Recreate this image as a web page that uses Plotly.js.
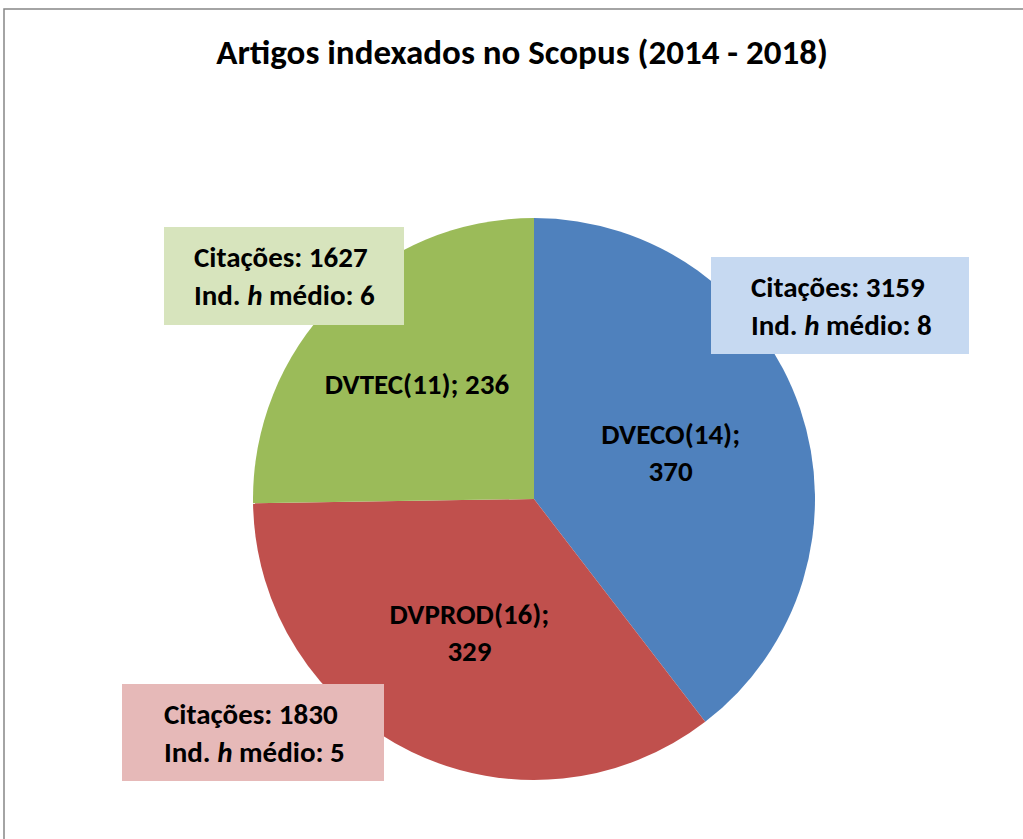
<!DOCTYPE html>
<html>
<head>
<meta charset="utf-8">
<script src="https://cdn.plot.ly/plotly-3.0.1.min.js"></script>
<style>html,body{margin:0;padding:0;background:#fff;}#chart{width:1023px;height:839px;}</style>
</head>
<body>
<div id="chart"></div>
<script>
var categories = ["DVECO(14)", "DVPROD(16)", "DVTEC(11)"];
var articles = [370, 329, 236];
var citations = [3159, 1830, 1627];
var hIndex = [8, 5, 6];
var sliceColors = ["#4F81BD", "#C0504D", "#9BBB59"];
var boxColors = ["#C6D9F1", "#E6B9B8", "#D7E4BD"];
var labelSep = ["<br>", "<br>", " "];

var FONT = "Carlito, Calibri, Lato, 'Open Sans', sans-serif";
var W = 1023, H = 839;
function px(x){ return x / W; }
function py(y){ return 1 - y / H; }

var sliceText = categories.map(function(c, i){ return "<b>" + c + ";" + labelSep[i] + articles[i] + "</b>"; });

var cx = 534, cy = 499, r = 281;
var trace = {
  type: "pie",
  labels: categories,
  values: articles,
  text: sliceText,
  textinfo: "text",
  textposition: "inside",
  insidetextorientation: "horizontal",
  insidetextfont: {family: FONT, size: 29, color: "#000"},
  sort: false,
  direction: "clockwise",
  rotation: 0,
  marker: {colors: sliceColors, line: {width: 0}},
  hoverinfo: "label+value",
  domain: {x: [px(cx - r), px(cx + r)], y: [py(cy + r), py(cy - r)]},
  showlegend: false
};

// box positions [x0, y0, x1, y1] in pixels, order as categories
var boxes = [[711, 257, 969, 354], [122, 684, 384, 781], [164, 227, 404, 325]];
var textLeft = [749, 162, 192];

var shapes = [{
  type: "rect", xref: "paper", yref: "paper",
  x0: px(4), y0: py(9), x1: 1.02, y1: -0.02,
  line: {color: "#868686", width: 1.5}, fillcolor: "rgba(0,0,0,0)", layer: "below"
}];
var annotations = [];
categories.forEach(function(c, i){
  var b = boxes[i];
  shapes.push({type: "rect", xref: "paper", yref: "paper",
    x0: px(b[0]), y0: py(b[3]), x1: px(b[2]), y1: py(b[1]),
    line: {width: 0}, fillcolor: boxColors[i], layer: "above"});
  annotations.push({xref: "paper", yref: "paper",
    x: px(textLeft[i]), y: py((b[1] + b[3]) / 2),
    xanchor: "left", yanchor: "middle", align: "left", showarrow: false,
    text: "<b>Citações: " + citations[i] + "<br>Ind. <i>h</i> médio: " + hIndex[i] + "</b>",
    font: {family: FONT, size: 29, color: "#000"}});
});

var layout = {
  width: W, height: H,
  margin: {l: 0, r: 0, t: 0, b: 0},
  paper_bgcolor: "#fff",
  title: {text: "<b>Artigos indexados no Scopus (2014 - 2018)</b>",
    x: px(522), y: py(52), xanchor: "center", yanchor: "middle",
    xref: "paper", yref: "paper",
    font: {family: FONT, size: 35, color: "#000"}},
  shapes: shapes,
  annotations: annotations
};

Plotly.newPlot("chart", [trace], layout, {displayModeBar: false, staticPlot: true});
</script>
</body>
</html>
